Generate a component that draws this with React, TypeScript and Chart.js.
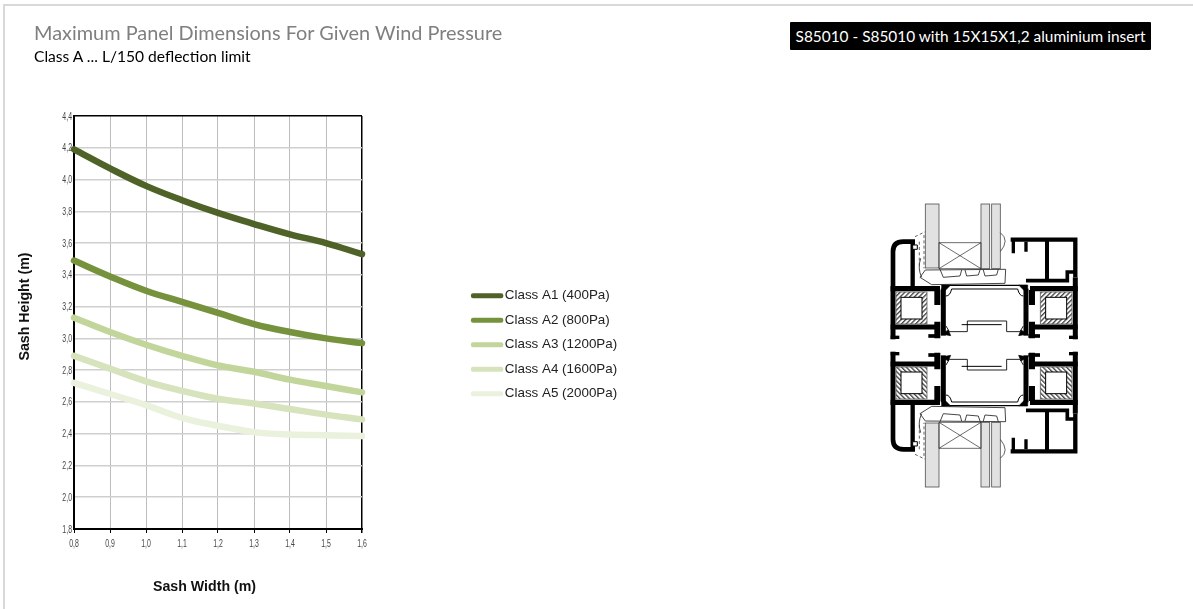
import React, { useEffect, useRef } from "react";
import { Chart, registerables } from "chart.js";

Chart.register(...registerables);

const sashWidths = [0.8, 0.9, 1.0, 1.1, 1.2, 1.3, 1.4, 1.5, 1.6];
const classA1 = [4.19, 4.07, 3.96, 3.87, 3.79, 3.72, 3.655, 3.6, 3.53];
const classA2 = [3.49, 3.39, 3.3, 3.23, 3.16, 3.09, 3.04, 3.0, 2.97];
const classA3 = [3.13, 3.04, 2.96, 2.89, 2.83, 2.79, 2.74, 2.7, 2.66];
const classA4 = [2.89, 2.81, 2.73, 2.67, 2.62, 2.59, 2.555, 2.52, 2.49];
const classA5 = [2.72, 2.65, 2.58, 2.5, 2.45, 2.41, 2.395, 2.39, 2.385];
const seriesNames = [
  "Class A1 (400Pa)",
  "Class A2 (800Pa)",
  "Class A3 (1200Pa)",
  "Class A4 (1600Pa)",
  "Class A5 (2000Pa)",
];
const seriesValues = [classA1, classA2, classA3, classA4, classA5];
const seriesColors = ["#4f6228", "#76923c", "#c2d69b", "#d6e3bc", "#eaf1dd"];

const commaTick = (v: number | string) => Number(v).toFixed(1).replace(".", ",");

const placement = {
  id: "placement",
  afterLayout(chart: any) {
    const ctx = chart.ctx;
    const shifts: Record<string, [number, number]> = { x: [-13.5, 0], y: [0, -16] };
    for (const id of ["x", "y"]) {
      const s = chart.scales[id];
      if (!s || s.__wrapped) continue;
      const drawTitle = s.drawTitle;
      s.drawTitle = function () {
        ctx.save();
        ctx.translate(shifts[id][0], shifts[id][1]);
        drawTitle.call(this);
        ctx.restore();
      };
      // The tick labels of the reference are set in a condensed face.
      const drawLabels = s.drawLabels;
      s.drawLabels = function (area: any) {
        const fillText = ctx.fillText;
        ctx.fillText = function (t: string, x: number, y: number, m?: number) {
          ctx.save();
          ctx.translate(x, y + 0.5);
          ctx.scale(0.63, 1);
          if (m === undefined) fillText.call(ctx, t, 0, 0);
          else fillText.call(ctx, t, 0, 0, m);
          ctx.restore();
        };
        drawLabels.call(this, area);
        delete ctx.fillText;
      };
      s.__wrapped = true;
    }
    const legend = chart.legend;
    if (!legend.__wrapped) {
      const draw = legend._draw;
      // The reference sets the labels closer to their swatches than the library's gap.
      legend._draw = function () {
        const fillText = ctx.fillText;
        ctx.fillText = function (t: string, x: number, y: number, m?: number) {
          if (m === undefined) fillText.call(ctx, t, x - 3, y);
          else fillText.call(ctx, t, x - 3, y, m);
        };
        draw.call(this);
        delete ctx.fillText;
      };
      legend.__wrapped = true;
    }
  },
  beforeDraw(chart: any) {
    const legend = chart.legend;
    legend.left = 462;
    legend.top = 278;
    legend.right = 660;
    legend.bottom = 430;
  },
};

function Section() {
  // One half of the profile section; the lower half is its mirror image.
  const half = (
    <g transform="translate(860 190) scale(0.3333)" fill="none" stroke="#000">
      <rect x="196" y="42" width="41" height="192" fill="#e1e1e1" stroke="#555" strokeWidth="2.5" />
      <rect x="363" y="42" width="26" height="194" fill="#e1e1e1" stroke="#555" strokeWidth="2.5" />
      <rect x="395" y="42" width="26" height="194" fill="#e1e1e1" stroke="#555" strokeWidth="2.5" />
      <path d="M237 158H363V236H237ZM237 158L363 236M363 158L237 236" strokeWidth="2" stroke="#222" />
      <path d="M196 240L437 238L435 280L215 284L180 262L196 240ZM240 238L250 262L300 258L305 240M315 240L320 258L355 255L360 240M370 240L375 258L410 255L415 238" strokeWidth="2.5" stroke="#222" />
      <path d="M165 140L196 125M178 155V235M192 135V235" strokeWidth="2.5" stroke="#444" strokeDasharray="9 7" />
      <path d="M182 205Q172 235 185 262" strokeWidth="3" stroke="#444" />
      <path d="M421 128Q450 150 421 185" strokeWidth="2.5" stroke="#444" />
      {/* left frame */}
      <path d="M99 292V185Q99 155 130 155H165" strokeWidth="14" />
      <path d="M158 150V290" strokeWidth="13" />
      <path d="M158 165H172V178H158Z" fill="#fff" strokeWidth="3" />
      <path d="M92 296H240" strokeWidth="16" />
      <path d="M99 290V448" strokeWidth="15" />
      <path d="M92 411H240" strokeWidth="15" />
      <path d="M92 442H118" strokeWidth="10" />
      <path d="M232 300V345M232 395V445" strokeWidth="18" />
      <path d="M205 438H240" strokeWidth="11" />
      <path d="M250 296V437" strokeWidth="15" />
      {/* right frame */}
      <path d="M452 149H646V262" strokeWidth="13" />
      <path d="M561 149V272" strokeWidth="12" />
      <path d="M498 272H622V246H646" strokeWidth="11" />
      <path d="M460 150V190M498 155V185" strokeWidth="10" />
      <path d="M510 296H653" strokeWidth="16" />
      <path d="M646 262V448" strokeWidth="15" />
      <path d="M510 411H653" strokeWidth="15" />
      <path d="M627 442H653" strokeWidth="10" />
      <path d="M516 300V345M516 395V445" strokeWidth="18" />
      <path d="M505 438H540" strokeWidth="11" />
      <path d="M498 296V437" strokeWidth="15" />
      {/* polyamide bridges */}
      <path d="M245 285H272L245 312ZM503 285H476L503 312Z" fill="#000" strokeWidth="2" />
      <path d="M258 318Q270 318 275 297H473Q478 318 490 318" fill="#fff" strokeWidth="3" />
      <path d="M270 286H478" strokeWidth="3.5" />
      <path d="M258 408L268 425H322V393H440V425H480L490 408" fill="#fff" strokeWidth="3" stroke="#222" />
      <path d="M305 404H425" strokeWidth="3" />
      <path d="M245 432L265 420L272 437ZM503 432L483 420L476 437Z" fill="#000" strokeWidth="2" />
      {/* reinforcement inserts */}
      <rect x="108" y="306" width="93" height="96" fill="url(#hatch)" stroke="#666" strokeWidth="2.5" />
      <rect x="123" y="322" width="63" height="65" fill="#fff" stroke="#000" strokeWidth="3" />
      <rect x="541" y="306" width="95" height="96" fill="url(#hatch)" stroke="#666" strokeWidth="2.5" />
      <rect x="557" y="322" width="63" height="65" fill="#fff" stroke="#000" strokeWidth="3" />
    </g>
  );
  return (
    <svg width="1193" height="609" style={{ position: "absolute", left: 0, top: 0 }}>
      <defs>
        <pattern id="hatch" width="10" height="10" patternUnits="userSpaceOnUse" patternTransform="rotate(45)">
          <rect width="10" height="10" fill="#fff" />
          <rect width="4" height="10" fill="#444" />
        </pattern>
      </defs>
      {half}
      <g transform="matrix(1 0 0 -1 0 691)">{half}</g>
    </svg>
  );
}

export default function App() {
  const ref = useRef<HTMLCanvasElement>(null);
  useEffect(() => {
    const chart = new Chart(ref.current!, {
      type: "line",
      data: {
        datasets: seriesNames.map((name, i) => ({
          label: name,
          data: sashWidths.map((x, j) => ({ x, y: seriesValues[i][j] })),
          borderColor: seriesColors[i],
          backgroundColor: seriesColors[i],
          borderWidth: 6.5,
          borderCapStyle: "round",
          borderJoinStyle: "round",
          pointRadius: 0,
          tension: 0.4,
          clip: false,
        })),
      } as any,
      options: {
        responsive: false,
        animation: false,
        layout: { padding: { top: 116, left: 0, right: 691, bottom: 0 } },
        plugins: {
          tooltip: { enabled: false },
          title: { display: false },
          legend: {
            position: "right",
            align: "start",
            maxWidth: 140,
            labels: {
              color: "#222",
              font: { family: "'Liberation Sans'", size: 13.4 },
              boxWidth: 28,
              boxHeight: 0.5,
              padding: 11.1,
              generateLabels: () =>
                seriesNames.map((text, i) => ({
                  text,
                  fontColor: "#222",
                  fillStyle: seriesColors[i],
                  strokeStyle: seriesColors[i],
                  lineWidth: 4.5,
                  lineCap: "round",
                  lineJoin: "round",
                  datasetIndex: i,
                })),
            },
          },
        },
        scales: {
          x: {
            type: "linear",
            min: 0.8,
            max: 1.6,
            afterFit: (s: any) => { s.height = 80; },
            ticks: {
              stepSize: 0.1,
              callback: commaTick,
              color: "#444",
              font: { family: "'Liberation Sans'", size: 11 },
              maxRotation: 0,
              padding: 4,
              autoSkip: false,
            },
            grid: {
              color: (c: any) => (c.index === 8 ? "#000" : "#bdbdbd"),
              lineWidth: (c: any) => (c.index === 8 ? 1.5 : 1),
              tickLength: 4,
              tickColor: "#000",
              drawOnChartArea: true,
            },
            border: { color: "#000", width: 2 },
            title: {
              display: true,
              text: "Sash Width (m)",
              color: "#111",
              font: { family: "'Liberation Sans'", size: 14.2, weight: "bold" },
              padding: { top: 0, bottom: 13 },
            },
          },
          y: {
            min: 1.8,
            max: 4.4,
            afterFit: (s: any) => { s.width = 74; },
            ticks: {
              stepSize: 0.2,
              callback: commaTick,
              color: "#444",
              font: { family: "'Liberation Sans'", size: 11 },
              padding: 2,
              autoSkip: false,
            },
            grid: {
              color: (c: any) => (c.tick && c.tick.value > 4.39 ? "#000" : "#cfcfcf"),
              lineWidth: 1.5,
              tickLength: 0,
            },
            border: { color: "#000", width: 2 },
            title: {
              display: true,
              text: "Sash Height (m)",
              color: "#111",
              font: { family: "'Liberation Sans'", size: 14.2, weight: "bold" },
              padding: { top: 17, bottom: 0 },
            },
          },
        },
      } as any,
      plugins: [placement],
    });
    return () => chart.destroy();
  }, []);

  return (
    <div style={{ position: "fixed", left: 0, top: 0, width: 1193, height: 609, overflow: "hidden", background: "#fff" }}>
      <div style={{ position: "absolute", left: 3, top: 4, right: -4, bottom: -4, borderLeft: "2px solid #d8d8d8", borderTop: "2px solid #d8d8d8" }} />
      <canvas ref={ref} width={1193} height={609} style={{ position: "absolute", left: 0, top: 0 }} />
      <Section />
      <div style={{ position: "absolute", left: 34, top: 20, font: "19.9px Lato", color: "#7f7f7f", whiteSpace: "nowrap" }}>
        Maximum Panel Dimensions For Given Wind Pressure
      </div>
      <div style={{ position: "absolute", left: 34, top: 47, font: "15.6px Lato", color: "#000", whiteSpace: "nowrap" }}>
        Class A ... L/150 deflection limit
      </div>
      <div style={{ position: "absolute", left: 790, top: 22, width: 361, height: 28, background: "#000", borderRadius: 1, color: "#fff", font: "15.4px/28px Lato", textAlign: "center", whiteSpace: "nowrap" }}>
        S85010 - S85010 with 15X15X1,2 aluminium insert
      </div>
    </div>
  );
}
